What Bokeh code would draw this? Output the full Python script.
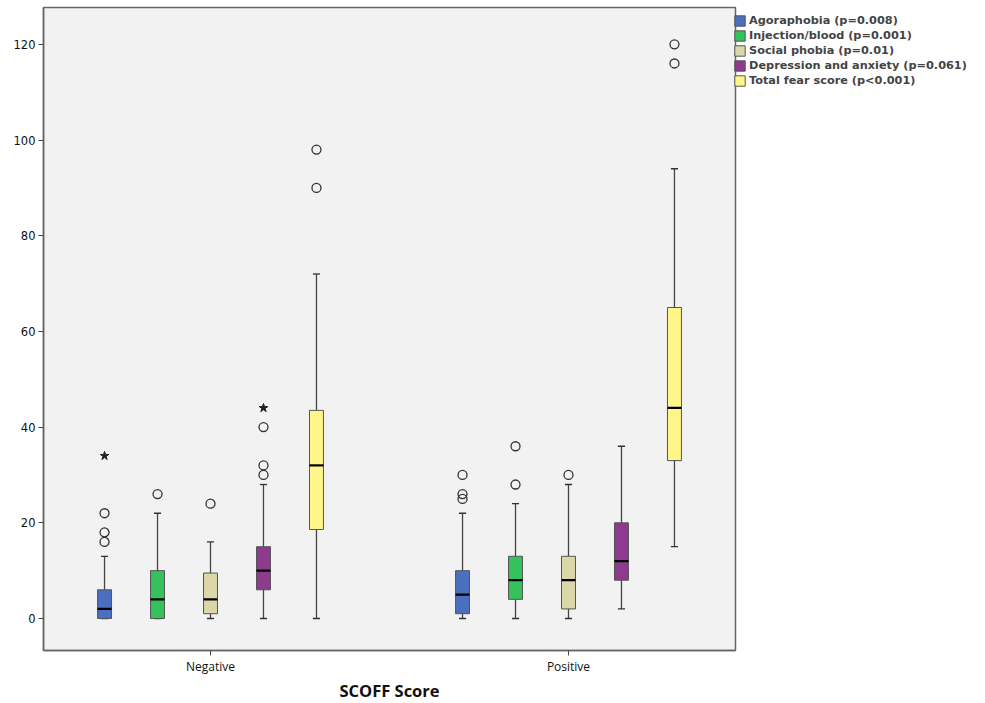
from bokeh.plotting import figure
from bokeh.models import ColumnDataSource, Range1d, FixedTicker, Legend, LegendItem
from bokeh.embed import file_html
from bokeh.resources import INLINE

groups = ["Negative", "Positive"]
series = ["Agoraphobia (p=0.008)", "Injection/blood (p=0.001)", "Social phobia (p=0.01)",
          "Depression and anxiety (p=0.061)", "Total fear score (p<0.001)"]
colors = ["#4a6fc0", "#35c25c", "#dcd7a8", "#8e3a8e", "#fff68a"]

# per series: [Negative, Positive]
lower_whisker = [[0, 0], [0, 0], [0, 0], [0, 2], [0, 15]]
q1 = [[0, 1], [0, 4], [1, 2], [6, 8], [18.6, 33]]
median = [[2, 5], [4, 8], [4, 8], [10, 12], [32, 44]]
q3 = [[6, 10], [10, 13], [9.5, 13], [15, 20], [43.5, 65]]
upper_whisker = [[13, 22], [22, 24], [16, 28], [28, 36], [72, 94]]
outliers = [[[22, 18, 16], [30, 26, 25]], [[26], [36, 28]], [[24], [30]],
            [[40, 32, 30], []], [[98, 90], [120, 116]]]
extremes = [[[34], []], [[], []], [[], []], [[44], []], [[], []]]

y_ticks = [0, 20, 40, 60, 80, 100, 120]

group_pos = [0, 1]
dodge = 0.148
box_w = 0.039
cap_w = 0.02

p = figure(frame_width=692, frame_height=643, output_backend="svg", toolbar_location=None,
           x_range=Range1d(-0.4665, 1.4665), y_range=Range1d(-6.69, 127.7),
           min_border_left=43, min_border_top=7, min_border_bottom=52, min_border_right=0,
           background_fill_color="#f2f2f2", border_fill_color="white")

items = []
for i, name in enumerate(series):
    xs = [g + (i - 2) * dodge for g in group_pos]
    src = ColumnDataSource(dict(x=xs, lw=lower_whisker[i], q1=q1[i], med=median[i],
                                q3=q3[i], uw=upper_whisker[i],
                                cl=[x - cap_w / 2 for x in xs], cr=[x + cap_w / 2 for x in xs],
                                ml=[x - box_w / 2 for x in xs], mr=[x + box_w / 2 for x in xs]))
    p.segment("x", "q3", "x", "uw", source=src, line_color="#444444", line_width=1.3)
    p.segment("x", "lw", "x", "q1", source=src, line_color="#444444", line_width=1.3)
    p.segment("cl", "uw", "cr", "uw", source=src, line_color="#333333", line_width=1.3)
    p.segment("cl", "lw", "cr", "lw", source=src, line_color="#333333", line_width=1.3)
    r = p.vbar(x="x", width=box_w, bottom="q1", top="q3", source=src,
               fill_color=colors[i], line_color="#555555", line_width=1)
    p.segment("ml", "med", "mr", "med", source=src, line_color="black", line_width=2.2)
    ox, oy, ex, ey = [], [], [], []
    for g, x in enumerate(xs):
        for v in outliers[i][g]:
            ox.append(x); oy.append(v)
        for v in extremes[i][g]:
            ex.append(x); ey.append(v)
    if ox:
        p.scatter(ox, oy, marker="circle", size=9, fill_color=None,
                  line_color="#333333", line_width=1.3)
    if ex:
        p.scatter(ex, ey, marker="star", size=9, fill_color="#222222",
                  line_color="#222222")
    items.append(LegendItem(label=name, renderers=[r]))

legend = Legend(items=items, location=(-2, 563), margin=0, padding=2, spacing=2,
                glyph_width=13, glyph_height=13, label_standoff=3,
                label_text_font="DejaVu Sans", label_text_font_style="bold",
                label_text_font_size="11.3px", label_height=13,
                border_line_color=None, background_fill_alpha=0)
p.add_layout(legend, "right")

p.xgrid.visible = False
p.ygrid.visible = False
p.outline_line_color = "#666666"
p.outline_line_width = 1.5

p.xaxis.ticker = FixedTicker(ticks=group_pos)
p.xaxis.major_label_overrides = {g: name for g, name in zip(group_pos, groups)}
p.xaxis.axis_label = "SCOFF Score"
p.xaxis.axis_label_text_font = "Open Sans"
p.xaxis.axis_label_text_font_style = "bold"
p.xaxis.axis_label_text_font_size = "16.5px"
p.xaxis.axis_label_standoff = 1
p.xaxis.major_label_standoff = 2
p.xaxis.major_label_text_font = "Open Sans"
p.xaxis.major_label_text_font_size = "12px"
p.xaxis.minor_tick_line_color = None

p.yaxis.ticker = FixedTicker(ticks=y_ticks)
p.yaxis.major_label_text_font = "DejaVu Sans"
p.yaxis.major_label_text_font_size = "11.5px"
p.yaxis.major_label_standoff = 3
p.yaxis.minor_tick_line_color = None

for ax in (p.xaxis[0], p.yaxis[0]):
    ax.axis_line_color = "#666666"
    ax.axis_line_width = 1.5
    ax.major_tick_line_color = "#444444"
    ax.major_tick_out = 5
    ax.major_tick_in = 0
    ax.major_label_text_color = "#111111"
    ax.axis_label_text_color = "#111111"

open("out.html", "w").write(file_html(p, INLINE))
